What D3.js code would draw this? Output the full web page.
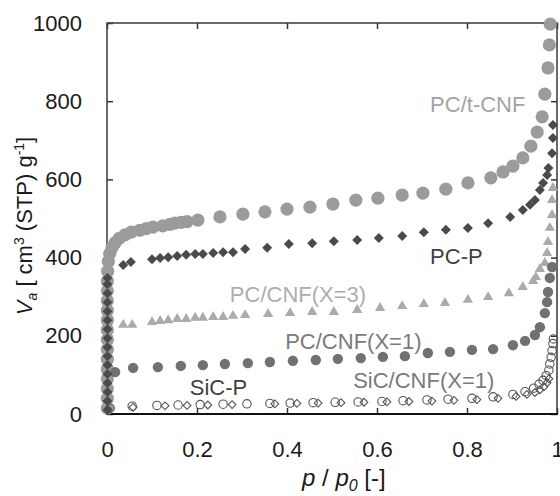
<!DOCTYPE html>
<html>
<head>
<meta charset="utf-8">
<script src="https://cdn.jsdelivr.net/npm/d3@7"></script>
<style>
  body { margin: 0; background: #fff; }
  svg { display: block; }
  text { font-family: "Liberation Sans", Arial, sans-serif; }
</style>
</head>
<body>
<svg id="chart" width="560" height="496"></svg>
<script>
// Axis ticks
const xTicks = [0, 0.2, 0.4, 0.6, 0.8, 1];
const yTicks = [0, 200, 400, 600, 800, 1000];

// Series names
const seriesNames = ["PC/t-CNF", "PC-P", "PC/CNF(X=3)", "PC/CNF(X=1)", "SiC-P", "SiC/CNF(X=1)"];

// PC/t-CNF: relative pressure and adsorbed volume
const tcnfP = [0.0008, 0.0008, 0.0008, 0.0008, 0.0008, 0.0008, 0.0008, 0.0008, 0.0008, 0.0008, 0.0008, 0.0008, 0.0008, 0.0008,
  0.0015, 0.003, 0.006, 0.011, 0.018, 0.027, 0.04, 0.054, 0.073, 0.087, 0.102, 0.124, 0.14, 0.151, 0.165, 0.178, 0.202,
  0.251, 0.302, 0.351, 0.400, 0.451, 0.502, 0.553, 0.602, 0.656, 0.702, 0.753, 0.802, 0.853, 0.880, 0.902, 0.924,
  0.942, 0.956, 0.967, 0.973, 0.980, 0.983, 0.985];
const tcnfV = [15, 40, 65, 90, 115, 140, 165, 190, 215, 240, 265, 290, 315, 340,
  365, 390, 410, 425, 438, 449, 458, 465, 470, 474, 478, 481, 485, 488, 490, 492, 496,
  504, 511, 517, 524, 529, 537, 547, 552, 560, 565, 575, 591, 604, 619, 634, 655,
  685, 721, 760, 818, 885, 944, 997];

// PC-P
const pcpP = [0.001, 0.001, 0.001, 0.001, 0.001, 0.001, 0.001, 0.001, 0.001, 0.001, 0.001, 0.001, 0.001, 0.001, 0.001, 0.001,
  0.036, 0.053, 0.1, 0.118, 0.136, 0.156, 0.176, 0.196, 0.213, 0.236, 0.258, 0.28,
  0.307, 0.356, 0.404, 0.456, 0.504, 0.556, 0.604, 0.656, 0.704, 0.753, 0.802, 0.847, 0.896, 0.924,
  0.94, 0.951, 0.962, 0.969, 0.978, 0.981, 0.989, 0.991, 0.991];
const pcpV = [10, 33, 56, 79, 102, 125, 148, 171, 194, 217, 240, 263, 286, 309, 332, 348,
  381, 389, 396, 399, 401, 404, 407, 409, 409, 412, 414, 414,
  422, 425, 435, 437, 442, 445, 450, 455, 465, 471, 476, 488, 504, 522,
  535, 547, 573, 591, 611, 629, 667, 706, 739];

// PC/CNF(X=3)
const x3P = [0.036, 0.056, 0.1, 0.118, 0.136, 0.156, 0.176, 0.196, 0.213, 0.236, 0.258, 0.28,
  0.307, 0.358, 0.407, 0.456, 0.504, 0.556, 0.607, 0.656, 0.704, 0.751, 0.802, 0.847, 0.893, 0.924,
  0.947, 0.953, 0.962, 0.973, 0.978, 0.980, 0.984, 0.989, 0.989, 0.991];
const x3V = [228, 228, 235, 238, 240, 243, 243, 246, 246, 248, 248, 251,
  253, 256, 258, 261, 261, 266, 271, 276, 281, 284, 292, 299, 309, 325,
  340, 350, 371, 386, 412, 440, 476, 509, 547, 578];

// PC/CNF(X=1)
const x1P = [0.018, 0.058, 0.113, 0.164, 0.213, 0.262, 0.313, 0.362, 0.413, 0.464, 0.513, 0.564, 0.613, 0.662,
  0.713, 0.762, 0.811, 0.858, 0.902, 0.929, 0.951, 0.962, 0.973, 0.978, 0.980, 0.984, 0.989];
const x1V = [107, 118, 120, 123, 125, 128, 130, 133, 136, 138, 141, 143, 146, 148,
  156, 159, 164, 166, 176, 187, 202, 222, 258, 286, 312, 348, 376];

// SiC-P
const sicP = [0.002, 0.058, 0.129, 0.178, 0.224, 0.278, 0.373, 0.422, 0.469, 0.52, 0.571, 0.622, 0.671, 0.722,
  0.771, 0.822, 0.869, 0.909, 0.933, 0.951, 0.962, 0.971, 0.978, 0.982];
const sicV = [12, 17, 21, 22, 23, 24, 26, 27, 28, 29, 30, 31, 32, 33,
  35, 37, 40, 45, 50, 55, 62, 70, 80, 90];

// SiC/CNF(X=1)
const sicCnfP = [0.007, 0.056, 0.111, 0.158, 0.207, 0.258, 0.311, 0.362, 0.407, 0.458, 0.507, 0.558, 0.611, 0.658,
  0.711, 0.758, 0.811, 0.858, 0.902, 0.929, 0.948, 0.96, 0.969, 0.976, 0.982, 0.984, 0.987, 0.989, 0.991, 0.992];
const sicCnfV = [15, 20, 22, 23, 24, 25, 26, 27, 28, 29, 30, 31, 32, 34,
  36, 38, 40, 44, 50, 57, 66, 76, 86, 98, 112, 128, 145, 162, 180, 192];

const svg = d3.select("#chart");
const plotL = 107, plotR = 557, plotT = 23, plotB = 414;

const x = d3.scaleLinear().domain([0, 1]).range([plotL, plotR]);
const y = d3.scaleLinear().domain([0, 1000]).range([plotB, plotT]);

const zip = (ps, vs) => ps.map((p, i) => ({ p, v: vs[i] }));

// Frame and inward ticks
const axisG = svg.append("g");
axisG.append("g").attr("transform", `translate(0,${plotB})`)
  .call(d3.axisBottom(x).tickValues(xTicks).tickFormat(d => String(d))
    .tickSizeInner(-6).tickSizeOuter(0).tickPadding(27))
  .call(g => g.select(".domain").remove());
axisG.append("g").attr("transform", `translate(0,${plotT})`)
  .call(d3.axisTop(x).tickValues(xTicks).tickFormat("").tickSizeInner(-6).tickSizeOuter(0))
  .call(g => g.select(".domain").remove());
axisG.append("g").attr("transform", `translate(${plotL},0)`)
  .call(d3.axisLeft(y).tickValues(yTicks).tickFormat(d => String(d))
    .tickSizeInner(-6).tickSizeOuter(0).tickPadding(25))
  .call(g => g.select(".domain").remove());
axisG.append("g").attr("transform", `translate(${plotR},0)`)
  .call(d3.axisRight(y).tickValues(yTicks).tickFormat("").tickSizeInner(-6).tickSizeOuter(0))
  .call(g => g.select(".domain").remove());

axisG.selectAll(".tick line").attr("stroke", "#333").attr("stroke-width", 1.5);
axisG.selectAll(".tick text").attr("font-size", 22).attr("fill", "#1a1a1a")
  .attr("font-family", "'Liberation Sans', Arial, sans-serif");

svg.append("path")
  .attr("d", `M${plotL},${plotB}V${plotT}H${plotR}V${plotB}`)
  .attr("fill", "none").attr("stroke", "#3a3a3a").attr("stroke-width", 1.5);
svg.append("line")
  .attr("x1", plotL - 1).attr("x2", plotR + 1).attr("y1", plotB).attr("y2", plotB)
  .attr("stroke", "#111").attr("stroke-width", 2.2);

// Markers
const marks = svg.append("g");

marks.append("g").selectAll("circle").data(zip(tcnfP, tcnfV)).join("circle")
  .attr("cx", d => x(d.p)).attr("cy", d => y(d.v)).attr("r", 6.6)
  .attr("fill", "#9b9b9b");

const tri = d3.symbol().type(d3.symbolTriangle).size(46);
marks.append("g").selectAll("path").data(zip(x3P, x3V)).join("path")
  .attr("d", tri).attr("transform", d => `translate(${x(d.p)},${y(d.v)})`)
  .attr("fill", "#ababab");

marks.append("g").selectAll("circle").data(zip(x1P, x1V)).join("circle")
  .attr("cx", d => x(d.p)).attr("cy", d => y(d.v)).attr("r", 5.2)
  .attr("fill", "#717171");

const dia = d3.symbol().type(d3.symbolSquare);
marks.append("g").selectAll("path").data(zip(sicP, sicV)).join("path")
  .attr("d", dia.size(30)).attr("transform", d => `translate(${x(d.p)},${y(d.v)}) rotate(45)`)
  .attr("fill", "none").attr("stroke", "#555").attr("stroke-width", 1.1);

marks.append("g").selectAll("circle").data(zip(sicCnfP, sicCnfV)).join("circle")
  .attr("cx", d => x(d.p)).attr("cy", d => y(d.v)).attr("r", 4.2)
  .attr("fill", "none").attr("stroke", "#555").attr("stroke-width", 1.1);

marks.append("g").selectAll("path").data(zip(pcpP, pcpV)).join("path")
  .attr("d", d3.symbol().type(d3.symbolSquare).size(50))
  .attr("transform", d => `translate(${x(d.p)},${y(d.v)}) rotate(45)`)
  .attr("fill", "#4a4a4a");

// Series labels placed in data coordinates
const labelSpots = [
  { p: 0.718, v: 772, fill: "#a3a3a3" },
  { p: 0.718, v: 384, fill: "#3f3f3f" },
  { p: 0.273, v: 286, fill: "#adadad" },
  { p: 0.396, v: 166, fill: "#7a7a7a" },
  { p: 0.184, v: 49, fill: "#3f3f3f" },
  { p: 0.547, v: 66, fill: "#7a7a7a" }
];
svg.append("g").selectAll("text").data(seriesNames).join("text")
  .attr("x", (d, i) => x(labelSpots[i].p)).attr("y", (d, i) => y(labelSpots[i].v))
  .attr("font-size", 22).attr("fill", (d, i) => labelSpots[i].fill)
  .text(d => d);

// Axis titles
const xt = svg.append("text").attr("x", 302).attr("y", 486).attr("font-size", 24).attr("fill", "#1a1a1a");
xt.append("tspan").attr("font-style", "italic").text("p");
xt.append("tspan").text(" / ");
xt.append("tspan").attr("font-style", "italic").text("p");
xt.append("tspan").attr("font-style", "italic").attr("font-size", 16).attr("dy", 5).text("0");
xt.append("tspan").attr("dy", -5).text(" [-]");

const yt = svg.append("text").attr("transform", "translate(32,226) rotate(-90)")
  .attr("text-anchor", "middle").attr("font-size", 22).attr("fill", "#1a1a1a");
yt.append("tspan").attr("font-style", "italic").text("V");
yt.append("tspan").attr("font-style", "italic").attr("font-size", 14).attr("dy", 5).text("a");
yt.append("tspan").attr("dy", -5).text(" [ cm");
yt.append("tspan").attr("font-size", 14).attr("dy", -8).text("3");
yt.append("tspan").attr("dy", 8).text(" (STP) g");
yt.append("tspan").attr("font-size", 14).attr("dy", -8).text("-1");
yt.append("tspan").attr("dy", 8).text("]");
</script>
</body>
</html>
